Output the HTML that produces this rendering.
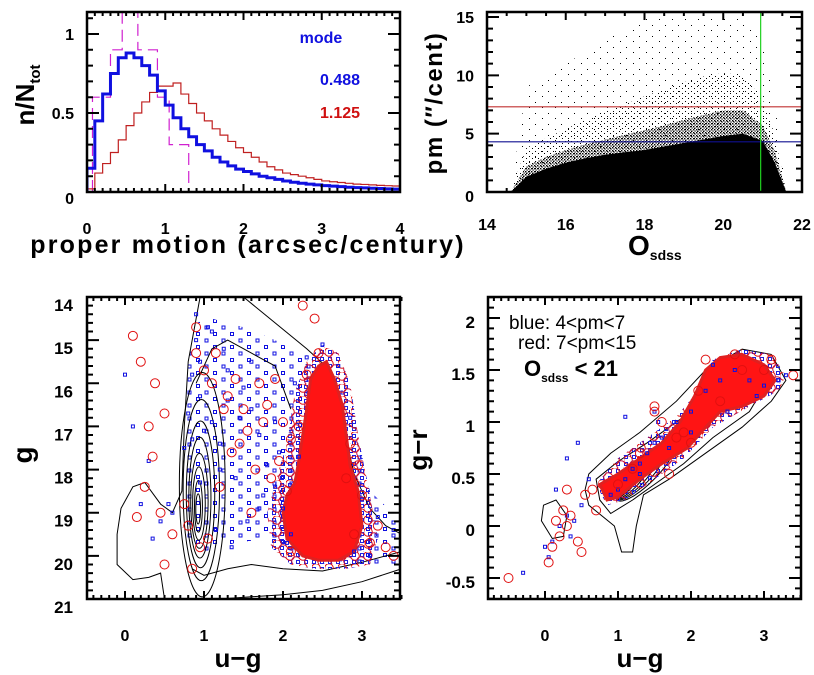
<!DOCTYPE html>
<html><head><meta charset="utf-8">
<style>
html,body{margin:0;padding:0;background:#fff;}
svg{display:block;font-family:"Liberation Sans",sans-serif;font-weight:bold;}
</style></head>
<body>
<svg id="fig" width="814" height="675" viewBox="0 0 814 675" xmlns="http://www.w3.org/2000/svg">
<defs>
<pattern id="dotsMed" width="3" height="3" patternUnits="userSpaceOnUse"><rect x="0" y="0" width="1.4" height="1.4" fill="#000"/><rect x="1.5" y="1.5" width="1.2" height="1.2" fill="#000"/></pattern>
<pattern id="dotsSparse" width="6" height="5" patternUnits="userSpaceOnUse"><rect x="1" y="1" width="1" height="1" fill="#000"/><rect x="4" y="3" width="1" height="1" fill="#000"/></pattern>
<pattern id="dotsVSparse" width="13" height="11" patternUnits="userSpaceOnUse"><rect x="2" y="3" width="1" height="1" fill="#000"/><rect x="9" y="8" width="1" height="1" fill="#000"/></pattern>
<pattern id="blueSq" width="17" height="13" patternUnits="userSpaceOnUse"><rect x="1" y="1" width="3" height="3" fill="none" stroke="#1010e0" stroke-width="1"/><rect x="9.5" y="7.5" width="3" height="3" fill="none" stroke="#1010e0" stroke-width="1"/></pattern>
<pattern id="blueSqDense" width="8" height="7" patternUnits="userSpaceOnUse"><rect x="0.5" y="0.5" width="3" height="3" fill="none" stroke="#2020e0" stroke-width="1"/></pattern>
<pattern id="redCirc" width="13" height="12" patternUnits="userSpaceOnUse"><circle cx="4" cy="4" r="4.3" fill="none" stroke="#e01010" stroke-width="1"/><circle cx="10" cy="9" r="4.3" fill="none" stroke="#c01040" stroke-width="1"/></pattern>
<clipPath id="c1"><rect x="87" y="12" width="313" height="180"/></clipPath>
<clipPath id="c2"><rect x="487" y="12" width="315" height="180"/></clipPath>
<clipPath id="c3"><rect x="87" y="297" width="313" height="302"/></clipPath>
<clipPath id="c4"><rect x="488" y="297" width="313" height="302"/></clipPath>
</defs>
</svg>
<script>
// ---------- DATA ----------
const pmBinStart = 0, pmBinWidth = 0.1;
const blueHist = [0.15,0.45,0.62,0.75,0.85,0.88,0.85,0.80,0.74,0.64,0.55,0.47,0.40,0.35,0.30,0.26,0.22,0.19,0.165,0.145,0.13,0.115,0.10,0.09,0.08,0.07,0.062,0.055,0.05,0.045,0.04,0.037,0.034,0.03,0.028,0.026,0.024,0.022,0.02,0.018];
const redHist = [0.02,0.12,0.18,0.25,0.33,0.42,0.50,0.57,0.63,0.67,0.67,0.69,0.62,0.56,0.50,0.45,0.40,0.36,0.32,0.28,0.25,0.22,0.19,0.16,0.14,0.12,0.11,0.10,0.09,0.08,0.07,0.065,0.06,0.055,0.05,0.048,0.045,0.042,0.04,0.038];
const magEdges = [0.07,0.3,0.45,0.55,0.65,0.9,1.05,1.3];
const magHeights = [0.6,0.9,1.3,1.3,0.9,0.6,0.3];
const modeBlue = "0.488", modeRed = "1.125";

const oBins   = [14.6,15,15.5,16,16.5,17,17.5,18,18.5,19,19.5,20,20.5,21,21.3,21.6];
const pmDense = [0,1.3,2.0,2.5,2.9,3.2,3.4,3.6,3.9,4.2,4.5,4.8,5.0,4.4,2.6,0];
const pmMed   = [0,2.2,3.0,3.6,4.1,4.5,4.9,5.3,5.7,6.2,6.6,7.0,7.0,5.7,3.6,0];
const pmSparse= [0,3.8,4.6,5.4,6.2,6.9,7.5,8.2,8.8,9.4,9.9,10.2,10.0,8.0,5.0,0];
const pmVSparse=[0,9,10,11,12,13,14,15,15,15,15,15,15,13,8,0];
const pmCutBlue = 4.3, pmCutRed = 7.3, oCut = 20.95;

// bottom-left CMD
const cmdBlueU = [0.1,0.3,0.55,0.9,0.85,0.95,1.1,1.2,1.3,1.5,1.6,1.7,1.8,1.9,2.0,2.1,1.4,1.25,1.05,0.8,0.75,0.95,1.15,1.35,1.55,1.75,1.95,2.15,2.3,2.5,2.7,2.85,3.0,3.2,3.4,0.35,0.45,0.2,0.0,1.0,1.3,1.6,1.9,2.2,2.9,3.1,0.9,1.1,1.45,1.7,2.05,1.2,0.85,0.6,0.95];
const cmdBlueG = [17.0,17.8,18.8,15.0,15.8,16.3,16.9,17.4,15.7,16.1,16.6,17.2,17.9,18.4,18.9,19.5,18.2,15.2,14.7,16.7,17.5,18.3,19.4,19.8,19.2,18.6,17.6,16.0,15.4,15.1,15.6,16.8,18.7,19.1,19.4,19.6,19.2,18.8,15.8,17.1,16.4,15.5,16.9,17.7,19.9,20.0,14.4,14.8,16.8,18.9,19.7,18.0,17.3,19.0,15.5];
const cmdRedU  = [0.1,0.2,0.38,0.5,0.3,0.25,0.15,0.45,0.35,0.8,0.75,0.9,1.0,1.1,1.15,1.3,1.4,1.5,1.7,1.8,1.9,2.0,2.1,1.2,1.05,0.85,2.2,2.25,2.4,2.45,2.8,2.9,3.0,3.1,3.3,3.4,2.85,2.95,0.95,1.6,1.35,1.85,2.1,0.6,0.5,1.55,1.75,1.95,2.05,1.25,1.45,1.65,0.9,2.3,3.2];
const cmdRedG  = [14.9,15.5,16.0,16.7,17.0,18.4,19.1,19.0,17.7,19.3,18.8,14.7,15.7,16.0,15.3,16.3,15.9,16.6,16.0,16.5,15.9,16.9,17.3,18.4,19.6,20.3,17.0,14.2,14.5,15.3,18.2,19.5,18.6,19.7,19.8,20.0,17.4,17.9,19.8,19.0,17.6,18.2,19.9,19.5,20.2,17.1,16.9,17.8,18.5,16.6,17.4,18.0,15.3,15.8,19.3];
const cmdBlueCloudU = [0.75,0.8,0.9,1.1,1.5,1.9,2.2,2.4,2.6,2.8,2.9,3.1,3.5,3.5,3.0,2.6,2.2,1.8,1.4,1.0,0.8,0.72];
const cmdBlueCloudG = [19.0,15.5,14.6,14.5,14.7,15.0,15.3,15.4,15.7,16.3,17.0,18.5,19.2,20.2,20.2,20.1,20.0,19.6,19.7,19.9,19.6,19.3];
const cmdRedBlobU = [2.2,2.3,2.35,2.45,2.55,2.65,2.75,2.8,2.85,2.95,3.0,2.9,2.7,2.45,2.25,2.05,2.0,2.05,2.15];
const cmdRedBlobG = [17.8,16.6,15.9,15.6,15.5,15.9,16.5,17.2,17.9,18.5,19.3,19.9,20.1,20.1,20.0,19.6,19.0,18.6,18.3];
const cmdRedHaloU = [2.05,2.15,2.3,2.5,2.7,2.85,2.95,3.1,3.2,3.1,2.8,2.4,2.1,1.85,1.8,1.95];
const cmdRedHaloG = [17.4,16.2,15.5,15.1,15.3,16.0,17.2,18.6,19.6,20.2,20.3,20.3,20.2,19.8,19.0,18.0];
const cmdContOuterU = [0.5,0.45,0.3,0.1,-0.1,-0.1,-0.05,0.1,0.25,0.45,0.6,0.72,0.75,0.8,0.95];
const cmdContOuterG = [21.0,20.4,20.5,20.55,20.2,19.5,18.9,18.4,18.3,18.8,19.0,18.5,17.0,15.5,14.0];
const cmdContTopU = [1.5,1.9,2.3,2.6,2.7,2.8,2.9,3.1,3.3,3.5];
const cmdContTopG = [14.0,14.6,15.2,15.7,16.6,17.3,18.1,18.9,19.3,19.5];
const cmdContLowU = [0.85,1.0,1.3,1.6,2.0,2.5,3.0,3.5];
const cmdContLowG = [20.3,20.45,20.3,20.2,20.3,20.35,20.15,19.9];
const cmdContBotU = [1.2,1.6,2.0,2.5,3.0,3.5];
const cmdContBotG = [21.0,20.95,20.9,20.8,20.6,20.3];
const cmdContTop2U = [0.9,1.1,1.3,1.6,1.9,2.1];
const cmdContTop2G = [16.0,15.2,15.0,15.3,15.6,16.6];
const cmdLevelRx = [0.03,0.05,0.08,0.11,0.14,0.18,0.23,0.29];
const cmdLevelRy = [0.35,0.6,0.85,1.1,1.4,1.7,2.1,2.6];

// bottom-right CCD
const ccdBlueU = [0.0,0.05,0.1,0.2,0.3,0.4,0.5,0.6,0.3,0.45,0.9,1.0,1.1,1.2,1.3,1.4,1.5,1.6,1.8,2.0,2.2,2.4,2.6,2.8,3.0,3.2,1.1,1.5,2.0,2.5,1.3,1.7,2.9,1.55,-0.3,0.15,0.35,2.3,3.3];
const ccdBlueG = [-0.2,-0.3,-0.15,0.0,0.1,0.05,0.2,0.45,0.65,0.8,0.3,0.35,0.45,0.55,0.6,0.7,0.8,0.85,1.0,1.1,1.3,1.4,1.5,1.4,1.35,1.4,1.05,1.1,0.9,1.1,0.5,0.75,1.25,1.0,-0.45,0.35,-0.1,1.55,1.45];
const ccdRedU  = [-0.5,0.05,0.1,0.2,0.3,0.35,0.45,0.5,0.25,0.15,0.55,0.65,0.7,1.0,1.2,1.5,1.6,1.7,1.9,2.0,2.1,2.2,2.6,2.7,3.0,3.1,3.4,1.5,1.3,1.8,0.3,2.4];
const ccdRedG  = [-0.5,-0.35,-0.2,-0.1,0.0,0.1,-0.15,-0.25,0.15,0.05,0.3,0.35,0.15,0.4,0.55,1.1,1.0,0.5,0.9,0.8,1.3,1.6,1.65,1.5,1.5,1.6,1.45,1.15,0.7,0.85,0.35,1.2];
const ccdBlueCloudU = [0.7,1.0,1.4,1.8,2.1,2.3,2.7,3.1,3.3,3.2,2.8,2.3,1.9,1.5,1.1,0.85];
const ccdBlueCloudG = [0.4,0.65,0.85,1.05,1.3,1.6,1.7,1.65,1.45,1.3,1.15,0.95,0.65,0.45,0.25,0.2];
const ccdBlobU = [0.75,1.0,1.3,1.6,1.85,2.05,2.2,2.4,2.7,3.0,3.15,3.0,2.7,2.4,2.2,1.95,1.6,1.3,1.0,0.85];
const ccdBlobG = [0.4,0.5,0.65,0.8,1.0,1.25,1.5,1.62,1.65,1.55,1.4,1.25,1.15,1.1,0.95,0.75,0.6,0.45,0.28,0.25];
const ccdContU = [0.6,0.9,1.3,1.8,2.2,2.7,3.1,3.3,3.1,2.7,2.2,1.7,1.35,1.25,1.2,1.05,0.95,0.6,0.55];
const ccdContG = [0.5,0.7,0.9,1.2,1.5,1.7,1.65,1.4,1.2,0.95,0.7,0.45,0.3,0.0,-0.25,-0.25,0.0,0.2,0.35];
const ccdCont2U = [0.7,1.0,1.4,1.9,2.3,2.8,3.1,2.8,2.3,1.9,1.5,1.2,0.9,0.75];
const ccdCont2G = [0.45,0.62,0.8,1.05,1.3,1.55,1.45,1.1,0.85,0.6,0.4,0.25,0.12,0.25];
const ccdSmallU = [-0.02,0.15,0.3,0.25,0.1,-0.05];
const ccdSmallG = [0.2,0.25,0.1,-0.1,-0.12,0.05];
const ccdLevels = [0.05,0.08,0.12,0.16,0.2,0.25];

// ---------- HELPERS ----------
const NS="http://www.w3.org/2000/svg";
const svg=document.getElementById('fig');
function el(tag,attrs,parent){const e=document.createElementNS(NS,tag);for(const k in attrs)e.setAttribute(k,attrs[k]);(parent||svg).appendChild(e);return e;}
function lin(d0,d1,p0,p1){return v=>p0+(v-d0)*(p1-p0)/(d1-d0);}
function polyPts(xs,ys,sx,sy){return xs.map((x,i)=>sx(x).toFixed(1)+','+sy(ys[i]).toFixed(1)).join(' ');}
function ticks(g,box,sx,sy,xr,yr,xMaj,xMin,yMaj,yMin){
  const L=8,l=4;let d='';
  const eps=1e-9;
  for(let v=Math.ceil(xr[0]/xMin-eps)*xMin;v<=xr[1]+eps;v+=xMin){
    const isM=Math.abs(v/xMaj-Math.round(v/xMaj))<1e-6;const t=isM?L:l;const x=sx(v);
    d+=`M${x},${box.y+box.h}v${-t}M${x},${box.y}v${t}`;}
  for(let v=Math.ceil(yr[0]/yMin-eps)*yMin;v<=yr[1]+eps;v+=yMin){
    const isM=Math.abs(v/yMaj-Math.round(v/yMaj))<1e-6;const t=isM?L*1.5:l*1.5;const y=sy(v);
    d+=`M${box.x},${y}h${t}M${box.x+box.w},${y}h${-t}`;}
  const p=el('path',{d:d,stroke:'#000','stroke-width':2,fill:'none'},g);
  
  
  const f=el('rect',{x:box.x,y:box.y,width:box.w,height:box.h,fill:'none',stroke:'#000','stroke-width':2.5},g);
  
  
}
function label(g,x,y,txt,opt){const t=el('text',Object.assign({x:x,y:y,'font-size':16,'text-anchor':'middle',fill:'#000'},opt||{}),g);t.textContent=txt;return t;}
function stepPath(start,w,vals,sx,sy){let d=`M${sx(start)},${sy(0)}`;vals.forEach((v,i)=>{d+=`L${sx(start+i*w)},${sy(v)}L${sx(start+(i+1)*w)},${sy(v)}`;});return d;}

// ---------- PANEL 1 ----------
(function(){
const g=el('g',{});  
const box={x:87,y:12,w:313,h:180};
const sx=lin(0,4,87,400), sy=lin(0,1,192,34);
const c=el('g',{'clip-path':'url(#c1)'},g);
let md=`M${sx(magEdges[0])},${sy(0)}`;
magHeights.forEach((h,i)=>{md+=`L${sx(magEdges[i])},${sy(h)}L${sx(magEdges[i+1])},${sy(h)}`;});
md+=`L${sx(magEdges[magEdges.length-1])},${sy(0)}`;
const m=el('path',{d:md,stroke:'#d020d0','stroke-width':1.2,fill:'none','stroke-dasharray':'12,6'},c);
 
const r=el('path',{d:stepPath(pmBinStart,pmBinWidth,redHist,sx,sy),stroke:'#c02020','stroke-width':1.2,fill:'none'},c);
 
const b=el('path',{d:stepPath(pmBinStart,pmBinWidth,blueHist,sx,sy),stroke:'#1010e0','stroke-width':3,fill:'none'},c);
 
ticks(g,box,sx,sy,[0,4],[0,1.14],1,0.1,0.5,0.1);
[0,1,2,3,4].forEach(v=>{const t=label(g,sx(v),234,String(v));});
[[0,'0'],[0.5,'0.5'],[1,'1']].forEach(a=>{const t=label(g,74,sy(a[0])+(a[0]===0?12:6),a[1],{'text-anchor':'end'});});
let t=label(g,248,253,'proper motion (arcsec/century)',{'font-size':25,'letter-spacing':'2.2'});
t=el('text',{x:0,y:0,'font-size':26,'text-anchor':'middle',transform:'translate(34,95) rotate(-90)'},g);t.innerHTML='n/N<tspan font-size="15" dy="6">tot</tspan>';

t=label(g,321,43,'mode',{fill:'#1010e0','font-size':16});
t=label(g,340,85,modeBlue,{fill:'#1010e0','font-size':16});
t=label(g,340,118,modeRed,{fill:'#d01010','font-size':16});
})();

// ---------- PANEL 2 ----------
(function(){
const g=el('g',{});  
const box={x:487,y:12,w:315,h:180};
const sx=lin(14,22,487,802), sy=lin(0,15,192,17);
const c=el('g',{'clip-path':'url(#c2)'},g);
function env(arr,fill,name){const xs=oBins.concat([oBins[oBins.length-1],oBins[0]]);const ys=arr.concat([0,0]);
  const p=el('polygon',{points:polyPts(xs,ys,sx,sy),fill:fill},c);}
env(pmVSparse,'url(#dotsVSparse)','scatter-very-sparse');
env(pmSparse,'url(#dotsSparse)','scatter-sparse');
env(pmMed,'url(#dotsMed)','scatter-medium');
env(pmDense,'#000','scatter-dense');
let l=el('line',{x1:487,x2:802,y1:sy(pmCutRed),y2:sy(pmCutRed),stroke:'#c03030','stroke-width':1.2},c);
l=el('line',{x1:487,x2:802,y1:sy(pmCutBlue),y2:sy(pmCutBlue),stroke:'#101090','stroke-width':1.2},c);
l=el('line',{x1:sx(oCut),x2:sx(oCut),y1:12,y2:192,stroke:'#20d020','stroke-width':1.2},c);
ticks(g,box,sx,sy,[14,22],[0,15.4],2,0.5,5,1);
[14,16,18,20,22].forEach(v=>{const t=label(g,sx(v),230,String(v));});
[0,5,10,15].forEach(v=>{const t=label(g,474,sy(v)+(v===0?10:6),String(v),{'text-anchor':'end'});});
let t=el('text',{x:628,y:255,'font-size':28,'text-anchor':'start'},g);t.innerHTML='O<tspan font-size="14" dy="5">sdss</tspan>';

t=el('text',{x:0,y:0,'font-size':24,'text-anchor':'middle','letter-spacing':'1.5',transform:'translate(442,103) rotate(-90)'},g);t.textContent='pm  (\u2033/cent)';

})();

// ---------- PANEL 3 ----------
(function(){
const g=el('g',{});  
const box={x:87,y:297,w:313,h:302};
const sx=lin(0,1,125,204), sy=lin(14,21,297,599);
const c=el('g',{'clip-path':'url(#c3)'},g);
let cl=el('polygon',{points:polyPts(cmdBlueCloudU,cmdBlueCloudG,sx,sy),fill:'url(#blueSq)'},c);

cmdLevelRx.forEach((rx,i)=>{const ry=cmdLevelRy[i];
  const e=el('ellipse',{cx:sx(0.92+rx*0.2),cy:sy(19.0-ry*0.25),rx:sx(0.92+rx)-sx(0.92),ry:sy(19+ry)-sy(19),fill:'none',stroke:'#000','stroke-width':1},c);
  });
[[cmdContOuterU,cmdContOuterG],[cmdContTopU,cmdContTopG],[cmdContLowU,cmdContLowG],[cmdContBotU,cmdContBotG],[cmdContTop2U,cmdContTop2G]].forEach(a=>{
  const p=el('polyline',{points:polyPts(a[0],a[1],sx,sy),fill:'none',stroke:'#000','stroke-width':1},c);
  });
cl=el('polygon',{points:polyPts(cmdRedHaloU,cmdRedHaloG,sx,sy),fill:'url(#blueSqDense)'},c);

cl=el('polygon',{points:polyPts(cmdRedHaloU,cmdRedHaloG,sx,sy),fill:'url(#redCirc)'},c);

const blob=el('polygon',{points:polyPts(cmdRedBlobU,cmdRedBlobG,sx,sy),fill:'#ff1414',stroke:'#e02020','stroke-width':3},c);

cmdBlueU.forEach((u,i)=>{const r=el('rect',{x:sx(u)-1.5,y:sy(cmdBlueG[i])-1.5,width:3,height:3,fill:'none',stroke:'#1010e0','stroke-width':1},c);
  });
cmdRedU.forEach((u,i)=>{const r=el('circle',{cx:sx(u),cy:sy(cmdRedG[i]),r:4.5,fill:'none',stroke:'#e01010','stroke-width':1},c);
  });
ticks(g,box,sx,sy,[-0.48,3.5],[14,21],1,0.1,1,0.2);
[0,1,2,3].forEach(v=>{const t=label(g,sx(v),641,String(v));});
[14,15,16,17,18,19,20,21].forEach(v=>{const t=label(g,73,sy(v)+14,String(v),{'text-anchor':'end','font-size':17});});
let t=label(g,238,667,'u\u2212g',{'font-size':26});
t=el('text',{x:0,y:0,'font-size':28,'text-anchor':'middle',transform:'translate(32,455) rotate(-90)'},g);t.textContent='g';

})();

// ---------- PANEL 4 ----------
(function(){
const g=el('g',{});  
const box={x:488,y:297,w:313,h:302};
const sx=lin(0,1,545,618), sy=lin(0,1,526,422);
const c=el('g',{'clip-path':'url(#c4)'},g);
const ang=Math.atan2(sy(1.45)-sy(0.25),sx(2.6)-sx(0.9));
ccdLevels.forEach(rr=>{
  const cx=sx(1.0+rr*1.5),cy=sy(0.3+rr*0.9);
  const e=el('ellipse',{cx:cx,cy:cy,rx:(rr*2.2)*73,ry:rr*0.9*104*0.5,fill:'none',stroke:'#000','stroke-width':1,transform:`rotate(${ang*180/Math.PI} ${cx} ${cy})`},c);
  });
[[ccdContU,ccdContG],[ccdCont2U,ccdCont2G],[ccdSmallU,ccdSmallG]].forEach(a=>{
  const p=el('polygon',{points:polyPts(a[0],a[1],sx,sy),fill:'none',stroke:'#000','stroke-width':1},c);
  });
let cl=el('polygon',{points:polyPts(ccdBlueCloudU,ccdBlueCloudG,sx,sy),fill:'url(#blueSqDense)'},c);

cl=el('polygon',{points:polyPts(ccdBlueCloudU,ccdBlueCloudG,sx,sy),fill:'url(#redCirc)'},c);

const blob=el('polygon',{points:polyPts(ccdBlobU,ccdBlobG,sx,sy),fill:'#ff1414',stroke:'#e02020','stroke-width':3},c);

ccdBlueU.forEach((u,i)=>{const r=el('rect',{x:sx(u)-1.5,y:sy(ccdBlueG[i])-1.5,width:3,height:3,fill:'none',stroke:'#1010e0','stroke-width':1},c);
  });
ccdRedU.forEach((u,i)=>{const r=el('circle',{cx:sx(u),cy:sy(ccdRedG[i]),r:4.5,fill:'none',stroke:'#e01010','stroke-width':1},c);
  });
ticks(g,box,sx,sy,[-0.78,3.53],[-0.7,2.2],1,0.1,0.5,0.1);
[0,1,2,3].forEach(v=>{const t=label(g,sx(v),641,String(v));});
[[-0.5,'-0.5'],[0,'0'],[0.5,'0.5'],[1,'1'],[1.5,'1.5'],[2,'2']].forEach(a=>{const t=label(g,475,sy(a[0])+10,a[1],{'text-anchor':'end','font-size':17});});
let t=label(g,640,667,'u\u2212g',{'font-size':26});
t=el('text',{x:0,y:0,'font-size':26,'text-anchor':'middle',transform:'translate(427,450) rotate(-90)'},g);t.textContent='g\u2212r';

t=el('text',{x:509,y:329,'font-size':19,'font-weight':'normal'},g);t.textContent='blue:  4<pm<7';
t=el('text',{x:518,y:349,'font-size':19,'font-weight':'normal'},g);t.textContent='red:  7<pm<15';
t=el('text',{x:524,y:376,'font-size':22},g);t.innerHTML='O<tspan font-size="12" dy="6">sdss</tspan><tspan dy="-6">  &lt;  21</tspan>';

})();
</script>
</body></html>
